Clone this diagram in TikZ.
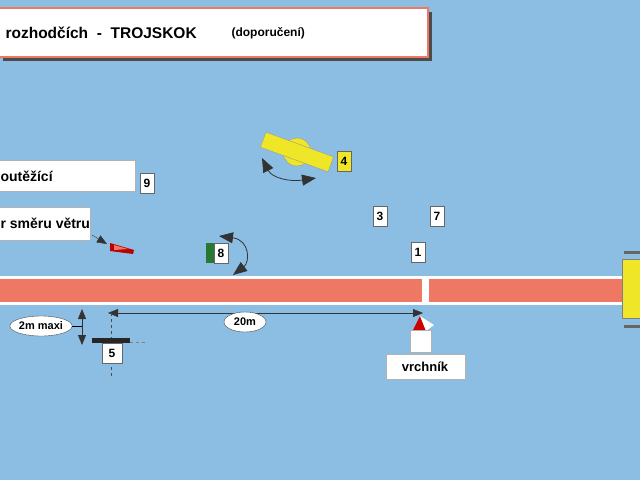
\documentclass[tikz,border=0pt]{standalone}
\usepackage{fontspec}
\setmainfont{Liberation Sans}
\usetikzlibrary{arrows.meta,shapes.geometric}
\definecolor{bg}{RGB}{140,190,228}
\definecolor{runred}{RGB}{238,120,100}
\definecolor{yel}{RGB}{240,230,40}
\definecolor{gr}{RGB}{40,120,50}
\tikzset{
 numbox/.style={draw=black!60,fill=white,minimum width=14pt,minimum height=20pt,inner sep=0pt,font=\bfseries\fontsize{12}{14}\selectfont},
 lbl/.style={fill=white,draw=black!30,anchor=north west,inner sep=0pt},
 ell/.style={ellipse,draw=black!70,fill=white,font=\bfseries\fontsize{11}{13}\selectfont,inner xsep=0pt,inner ysep=1pt,minimum height=20pt},
 big/.style={font=\bfseries\fontsize{14}{16}\selectfont},
 bigtip/.tip={Triangle[length=14pt,width=11pt]},
 smtip/.tip={Triangle[length=10pt,width=8pt]},
}
\begin{document}
\begin{tikzpicture}[x=1pt,y=-1pt]
\useasboundingbox (0,0) rectangle (640,480);
\fill[bg] (0,0) rectangle (640,480);
% title
\fill[black!70] (3,12) rectangle (432,61);
\draw[runred,line width=1.5pt,fill=white] (-2,8) rectangle (428,57);
\node[font=\bfseries\fontsize{15.5}{18}\selectfont,anchor=west] (title) at (2,33) {rozhodčích\ \ -\ \ TROJSKOK};
\node[font=\bfseries\fontsize{12}{14}\selectfont,anchor=west] (dop) at (228,33) {(doporučení)};
% label boxes
\node[lbl,minimum width=137pt,minimum height=31pt] (sout) at (-2,160) {};
\node[big,anchor=west] at (-3,176) {outěžící};
\node[lbl,minimum width=92pt,minimum height=33pt] (vitr) at (-2,207) {};
\node[big,anchor=west] at (-3,223) {r směru větru};
\node[numbox] (n9) at (147,183) {9};
% wind
\coordinate (wa) at (92,235);
\coordinate (wb) at (107,244);
\draw[-smtip,black!80] (wa) -- (wb);
\fill[red!75!black] (110,243) -- (134,250) -- (133,254) -- (110,251) -- cycle;
\fill[runred] (114,245) -- (128,249) -- (114,250) -- cycle;
% runway
\fill[white] (0,276) rectangle (622,305);
\fill[runred] (0,279) rectangle (622,302);
\fill[white] (422,277) rectangle (429,304);
% pit
\fill[black!60] (624,251) rectangle (640,254);
\fill[black!60] (624,325) rectangle (640,328);
\fill[yel,draw=black!50] (622,259) rectangle (642,318);
% 8
\node[numbox] (n8) at (221,253) {8};
\fill[gr] (206,243) rectangle (214,263);
\draw[bigtip-bigtip,black!80,thick] (219,236) .. controls (250,240) and (250,262) .. (233,275);
% 4
\begin{scope}[shift={(297,152)},rotate=-20]
\fill[yel,draw=black!40] (0,0) circle (14);
\fill[yel,draw=black!40] (-36,-8) rectangle (36,8);
\end{scope}
\draw[bigtip-bigtip,black!80,thick] (262,158) .. controls (272,178) and (290,182) .. (316,178);
\node[numbox,fill=yel] (n4) at (344,161) {4};
% 3 7 1
\node[numbox] (n3) at (380,216) {3};
\node[numbox] (n7) at (437,216) {7};
\node[numbox] (n1) at (418,252) {1};
% distances
\coordinate (d20l) at (108,313);
\coordinate (d20r) at (423,313);
\draw[smtip-smtip,black!80] (d20l) -- (d20r);
\node[ell,minimum width=42pt] (l20) at (245,322) {20m};
\draw[dashed,black!70] (111,313) -- (111,378);
\draw[dashed,black!50] (130,342) -- (146,342);
\coordinate (m2t) at (82,309);
\coordinate (m2b) at (82,345);
\draw[smtip-smtip,black!80,thick] (m2t) -- (m2b);
\node[ell,minimum width=58pt] (l2m) at (41,326) {2m maxi};
\draw (l2m.east) -- (m2t|-l2m);
\fill[black!85] (92,338) rectangle (130,343);
\node[numbox,minimum width=20pt] (n5) at (112,353) {5};
% vrchnik
\fill[red!80!black] (413,330) -- (420,316) -- (426,330) -- cycle;
\fill[white] (420,316) -- (434,325) -- (426,331) -- cycle;
\node[numbox,minimum width=21pt,minimum height=22pt,draw=black!30] (sq) at (421,341) {};
\node[lbl,minimum width=79pt,minimum height=25pt] (vr) at (386,354) {};
\node[font=\bfseries\fontsize{13}{15}\selectfont] at (425,367) {vrchník};
\end{tikzpicture}
\end{document}
